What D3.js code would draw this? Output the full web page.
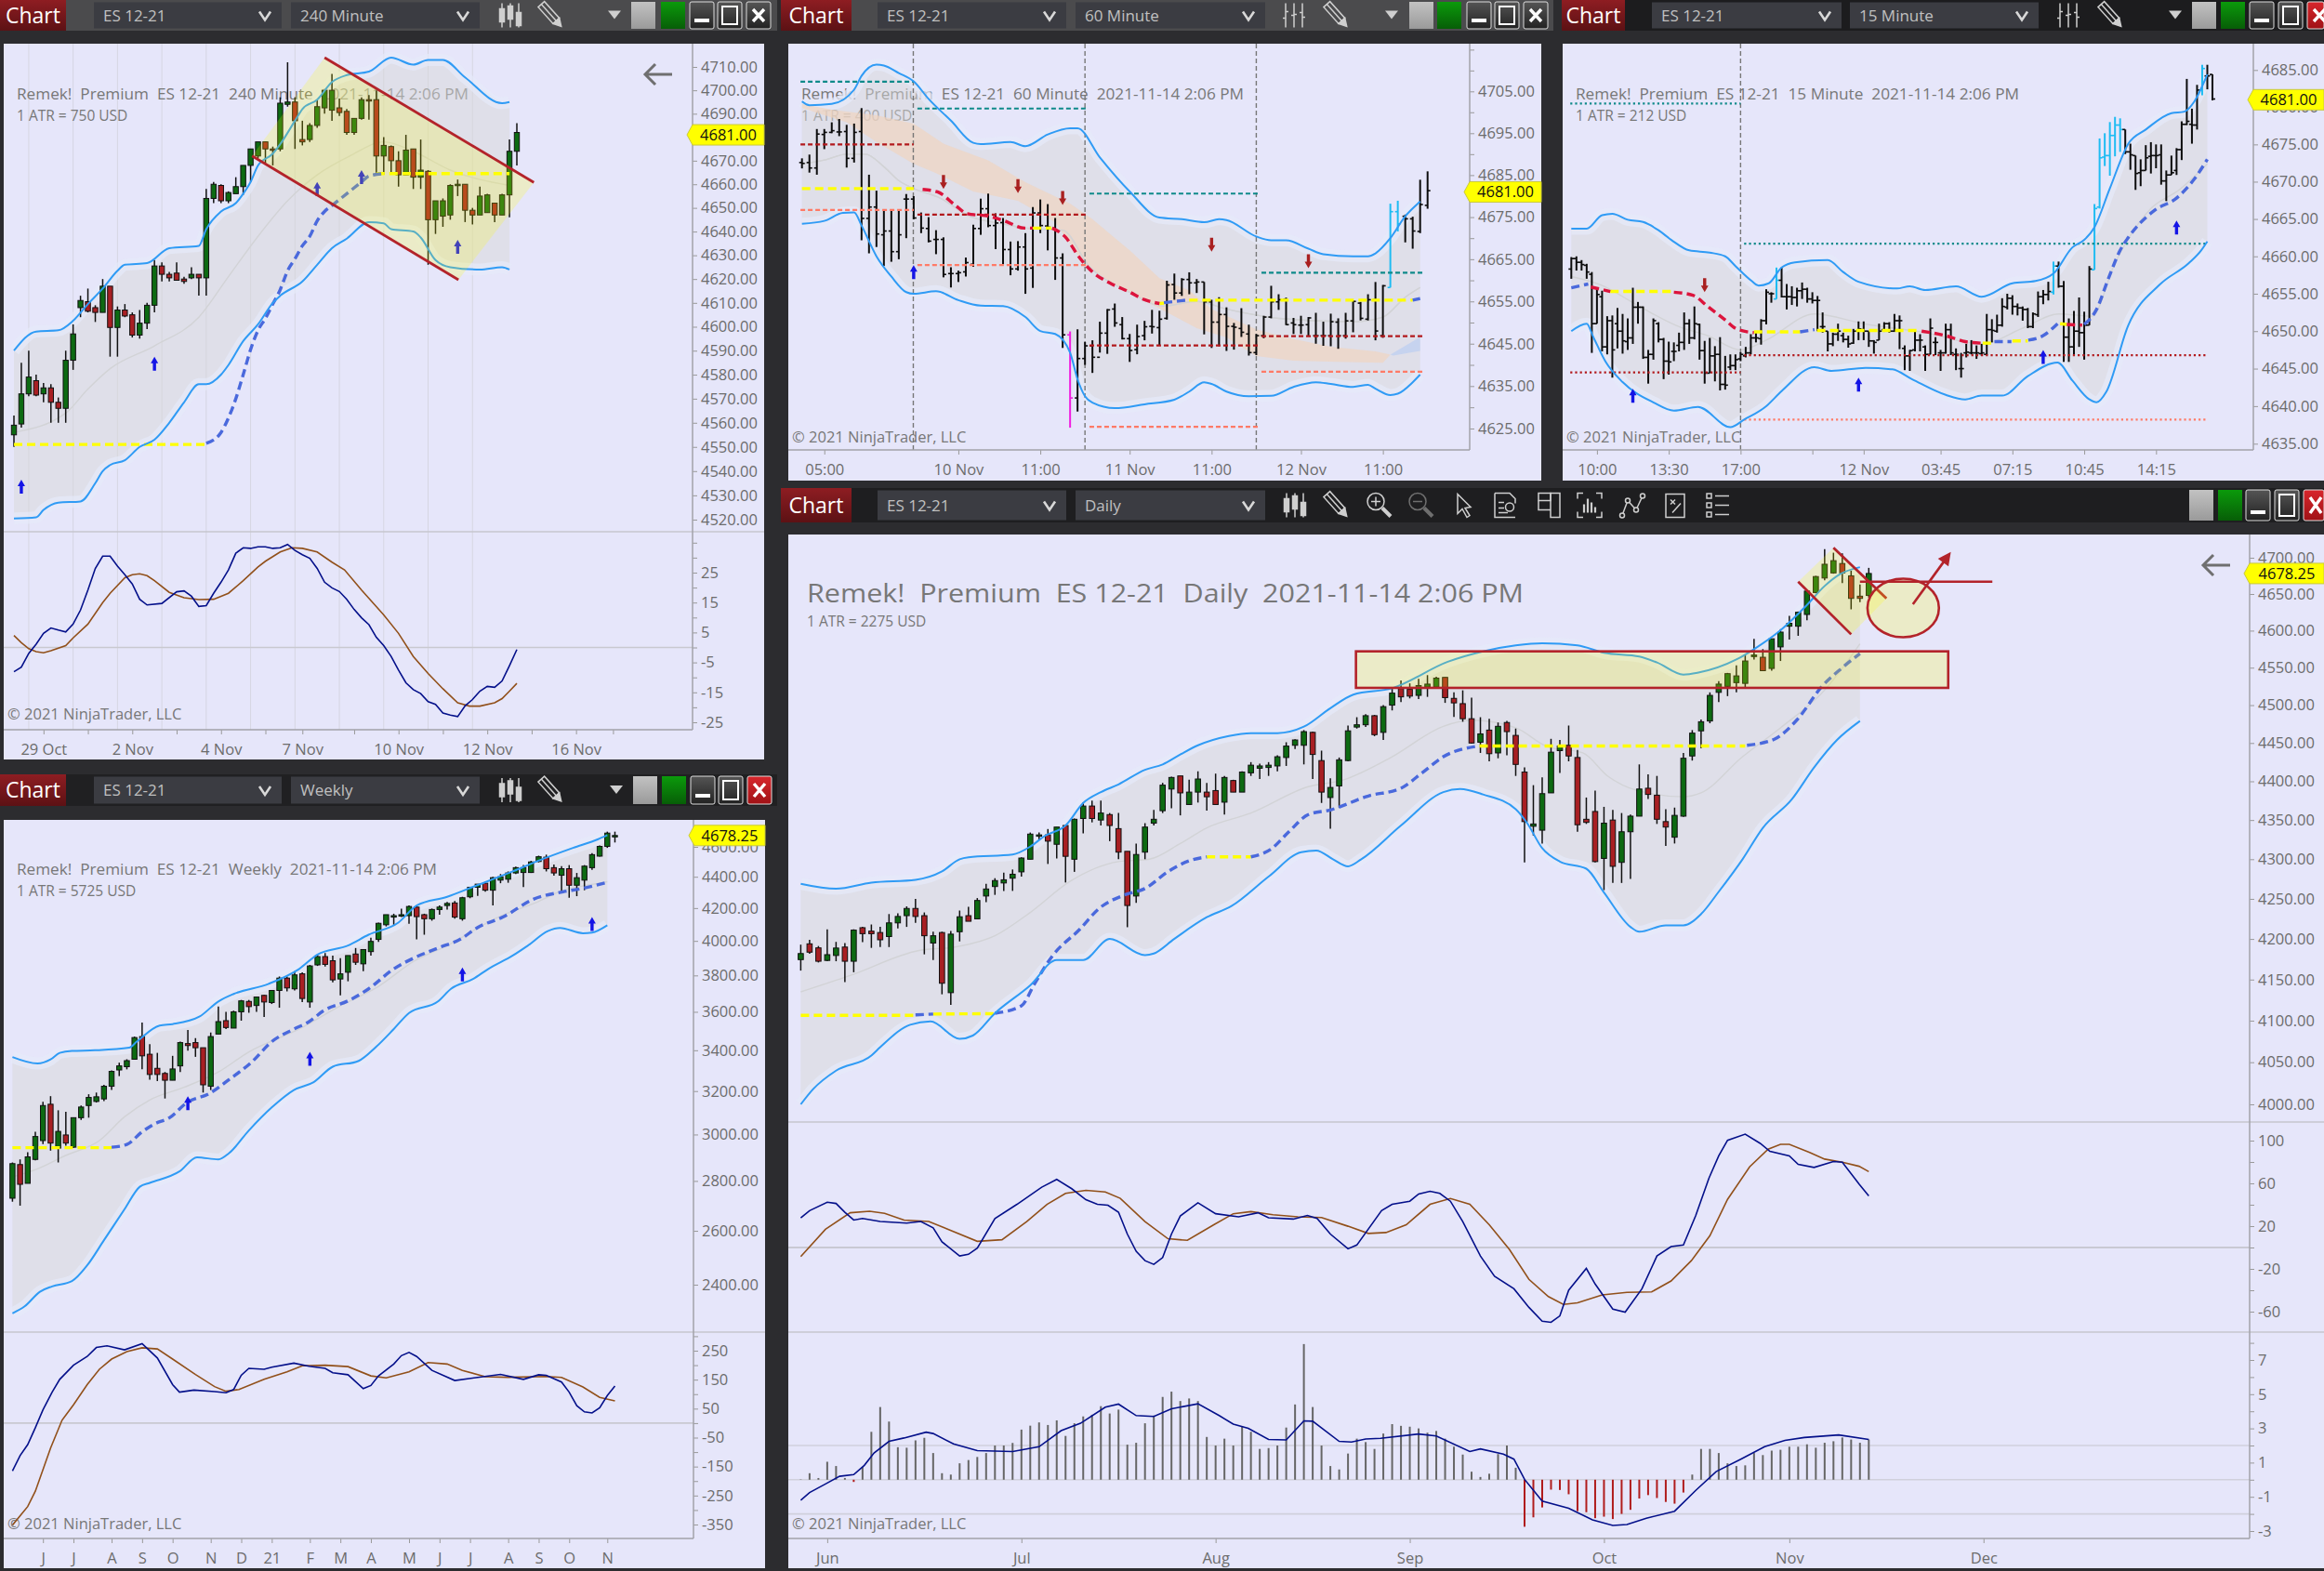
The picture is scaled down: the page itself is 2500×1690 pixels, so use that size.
<!DOCTYPE html>
<html>
<head>
<meta charset="utf-8">
<script src="https://cdn.jsdelivr.net/npm/d3@7"></script>
<style>
html,body{margin:0;padding:0;background:#2c2c2f;}
svg{display:block;}
text{font-family:"Open Sans",sans-serif;white-space:pre;}
</style>
</head>
<body>
<div id="chart"></div>
<script>
// ---- 240 minute : [open, high, low, close]
var ohlc240 = [[4555,4563,4550,4559],[4559.5,4585,4558,4572],[4572,4590,4571,4579],[4577.5,4580,4571,4571.5],[4572,4576.5,4568.5,4574.5],[4574.5,4576,4560,4568.5],[4568.5,4570.5,4560,4566],[4566,4590,4560,4586],[4586,4601,4582,4597],[4608,4613,4604,4611],[4610.5,4616,4606,4606.5],[4608,4609,4602,4606],[4606,4620,4606,4617],[4617,4617,4587.5,4599.7],[4599.7,4608.5,4587.5,4607],[4607,4609.5,4604,4604.5],[4605,4606,4595.5,4596.5],[4596.5,4607,4595,4601.5],[4601.5,4610,4599,4609],[4609,4628,4606,4625.5],[4625.5,4627,4619,4622],[4622,4623,4619,4620.5],[4622.5,4627,4619.5,4619.5],[4620,4621,4618,4619],[4620.5,4625,4620,4622],[4622,4622,4613,4620.5],[4620.5,4658,4613,4654],[4654,4661,4652,4660],[4659.5,4660,4652,4653],[4653,4657,4652,4656.5],[4656,4663,4656,4659],[4659,4668,4655.5,4668],[4668,4675,4661,4675],[4672,4678,4671,4678],[4678,4678,4669,4675],[4675,4676,4668,4674.5],[4675,4697,4674,4694.5],[4694,4712,4693,4695],[4695,4697,4675,4687],[4679,4687,4676.5,4678],[4679,4686,4678,4685],[4685,4696,4684,4693],[4692.5,4700,4690,4700],[4691.5,4707,4687,4700],[4692.5,4696.5,4689,4690.5],[4691,4692,4681,4682],[4682,4688,4681,4688],[4688,4697,4687.5,4696],[4696,4698,4687.5,4695.5],[4696,4700,4664,4672],[4672,4680,4664,4676.5],[4676,4676.5,4664,4670],[4670,4674,4659,4664],[4664,4681,4664,4674.5],[4675,4675,4658,4663],[4663,4679,4658,4666],[4665.5,4666,4626,4645],[4645,4653,4639,4653],[4646.5,4654,4642,4653],[4647,4660,4645,4659.5],[4659.5,4662,4655,4660],[4660,4660,4644,4649],[4649,4650,4643,4647],[4647,4659,4647,4655],[4648,4656,4648,4655.5],[4652,4652,4644,4647],[4647,4656,4647,4655.5],[4655.5,4679,4646,4674],[4674,4686,4668,4682]];
var upper240 = [[0,4590],[3,4598],[6,4598.5],[8,4602.5],[10,4609.5],[12,4616],[14,4623.5],[15,4626],[18,4626.7],[21,4633],[25,4634],[26,4641],[28,4648.5],[30,4652],[31,4656],[32,4661],[33,4668],[35,4673],[36,4677],[38,4687],[39,4692],[41,4696],[43,4703.5],[45,4706.5],[48,4708],[51,4714],[54,4711],[56,4713],[58,4713],[61,4705.5],[66,4694.5],[67,4695]];
var lower240 = [[0,4520.5],[3,4521],[4,4524],[6,4527],[9,4527.5],[11,4535],[12,4540],[13,4542.5],[15,4544.5],[17,4550],[19,4553],[21,4560],[23,4568.5],[25,4576],[26,4576],[28,4580],[29,4584],[31,4594],[33,4601],[35,4610],[36,4613],[39,4619],[41,4626],[43,4633],[45,4637],[48,4644],[50,4643.5],[51,4641],[54,4640],[55,4637.5],[57,4628],[59,4625],[63,4624],[66,4625],[67,4624]];
var center240 = [[0,4556],[7,4564],[10,4574],[13,4582.5],[19,4592],[25,4604],[29,4621],[33,4638],[37,4653],[41,4664],[45.4,4672],[50,4678],[54,4674],[59,4666],[67,4659.5]];
var midYellow240 = [[[0,4551],[26,4551]],[[49,4664.5],[67,4664.5]]];
var midBlue240 = [[[26,4551.5],[28,4556],[29,4562],[30,4570],[31,4580],[32,4590.5],[33,4598.5],[34,4603.5],[35,4609.5],[36,4615.5],[37,4623.5],[38,4628.5],[39,4634],[40,4638],[41,4644.5],[42,4648.5],[43,4651],[44,4653.5],[46,4658.5],[47,4661],[48,4663.5],[50,4664.5]]];
var arrowsUp240 = [[1,4536.5],[19,4587.5],[41,4661],[47,4666],[60,4636.5]];
var channel240 = [[42,4714],[70.3,4660.8],[60.1,4619.7],[32.2,4672]];
var grid240 = [2,8,14,20,26,32,38,44,50,56,62];
var oscFast240 = [[0,-8.1],[1,-6.6],[2,-2],[3,1.1],[4,4.7],[5,6.5],[6,5.8],[7,5.2],[8,7.8],[9,12.5],[10,19.2],[11,26.4],[12,30.5],[13,30.5],[14,27.2],[15,24.3],[16,21.2],[17,16.1],[18,14.2],[20,14.7],[22,18.6],[23,18.9],[24,17.1],[25,13.7],[26,14],[27,18.1],[28,21.8],[29,25.9],[30,31.5],[31,33.3],[32,33.1],[33,33.6],[34,33.6],[35,33.1],[36,33.3],[37,34.4],[38,32.4],[39,31],[40,29.8],[41,26.4],[42,21.8],[43,19.9],[44,18.7],[45,16.1],[46,12.7],[47,9.9],[48,7.6],[49,3.4],[50,0.6],[51,-3],[52,-7.6],[53,-11.8],[54,-14.1],[55,-15.4],[56,-18.1],[57,-19],[58,-21.9],[59,-22.6],[60,-23.1],[61,-19.5],[62,-17.4],[63,-14.6],[64,-13],[65,-13.3],[66,-11.2],[67,-6.1],[68,-0.7]];
var oscSlow240 = [[0,4],[1,1.6],[2,-0.4],[3,-1.4],[4,-1.8],[5,-1.1],[7,0.6],[8,3.2],[10,7.8],[12,15],[13,18.1],[15,23.3],[16,24.3],[17,24.6],[18,24],[19,22.3],[21,18.4],[23,16.6],[25,16],[27,16.1],[29,18.1],[31,22.3],[33,26.9],[34,28.8],[36,31.9],[37.6,33.3],[39,33.1],[41,31.9],[43,28.5],[44.7,25.9],[47,19.2],[50,10.9],[52,4.7],[54,-3],[56,-8.7],[58,-13.8],[60,-18.5],[61.6,-19.6],[63,-19.6],[65,-18.5],[66,-17.1],[67,-14.6],[68,-12]];
var xTicks240 = [4,10,16,22,28,34,39,46,52,58,64,70,76,81];
var xLabels240 = {4:"29 Oct",16:"2 Nov",28:"4 Nov",39:"7 Nov",52:"10 Nov",64:"12 Nov",76:"16 Nov"};
var yTicks240 = [4520,4530,4540,4550,4560,4570,4580,4590,4600,4610,4620,4630,4640,4650,4660,4670,4680,4690,4700,4710];
var oscTicks240 = [35,30,25,20,15,10,5,0,-5,-10,-15,-20,-25];
var oscLabels240 = [25,15,5,-5,-15,-25];

// ---- 60 minute
var ohlc60 = [[4688,4689,4686.6,4687.8],[4688,4689.9,4685.6,4686.7],[4686.7,4696,4685.1,4694.8],[4694.7,4696,4691.2,4695.2],[4695.2,4697.6,4695,4695.6],[4695.3,4698.4,4694.3,4695.3],[4695.4,4697,4686.8,4689],[4689,4697.3,4688,4695.2],[4695.4,4701,4669.5,4674.7],[4674.7,4685.1,4666.4,4677.4],[4677.4,4681.3,4667.9,4671],[4670.8,4676.5,4663.4,4671.7],[4671.7,4676.5,4664.4,4666.8],[4666.8,4676.5,4665,4670.8],[4679.3,4680.5,4670,4679.3],[4679.3,4680,4674.5,4674.8],[4675.6,4676.1,4671.2,4672.4],[4672.3,4675,4669,4669.3],[4669.7,4671.9,4666.2,4669.7],[4669.7,4670.2,4660.7,4661.4],[4661.6,4663.1,4658.3,4661.6],[4661.6,4662.3,4659.6,4661.8],[4662,4665.4,4660.9,4664.2],[4663.8,4673.2,4663.2,4672.3],[4672.3,4679.4,4670.8,4677],[4677,4680.6,4672.6,4673],[4673,4675.9,4667.4,4673.6],[4673.7,4674.8,4663.8,4667.3],[4667.3,4669.2,4661.2,4662.7],[4662.7,4669.3,4662.3,4667.9],[4667.9,4671.2,4656.8,4662.7],[4662.9,4677.4,4658.2,4676],[4676,4679.2,4671.2,4673],[4672.9,4678.1,4667.1,4672.6],[4672.4,4674.8,4660.1,4665.3],[4665.3,4666.4,4644,4647.1],[4647.1,4647.9,4625.2,4632.2],[4632.2,4648.4,4629,4641.5],[4641.5,4645.4,4640,4644.5],[4644.5,4645.8,4638.1,4641.8],[4641.8,4650.2,4642.9,4647.5],[4647.5,4653.2,4642.6,4653],[4653.2,4654.5,4649,4649.9],[4649.5,4651.3,4646,4646.2],[4646.2,4647.3,4640.7,4643.4],[4643.6,4649.5,4642.5,4646.7],[4646.9,4650.4,4645.8,4649],[4649.1,4653,4647.4,4649],[4648.8,4652.8,4644.7,4650.8],[4651,4659.9,4650.7,4658.9],[4659,4661.6,4655.4,4657],[4657,4660.5,4656.3,4660.2],[4660.2,4661.9,4656.7,4659.4],[4659.4,4660.3,4657,4659.6],[4659.6,4659.6,4647.2,4654.9],[4654.9,4655.4,4644,4650.1],[4650.1,4656,4644.4,4651.9],[4651.9,4653.6,4643.3,4649.1],[4649.1,4649.9,4643.6,4648.9],[4648.6,4653.4,4646.6,4647.7],[4647.3,4649.5,4642.2,4642.9],[4642.9,4647.3,4642.3,4646.9],[4646.9,4651.6,4646.3,4651.3],[4651.3,4658.7,4651,4654.9],[4654.9,4656.7,4653,4655.4],[4655.5,4655.9,4649.4,4649.5],[4649.9,4651.1,4647.3,4649.5],[4649.4,4651.6,4647.3,4649.4],[4649.5,4651.3,4646.9,4651.1],[4646.9,4652.3,4645,4646.9],[4646.9,4650.2,4644.5,4646.9],[4646.9,4652.1,4644.4,4650.2],[4650.1,4651,4643.8,4646.9],[4646.9,4652.3,4646.2,4650.4],[4650.4,4655.2,4647.7,4655],[4654.6,4654.9,4650.5,4651],[4650.8,4656.7,4650.5,4655.4],[4655.4,4659.6,4645.8,4648],[4646.9,4658.9,4646.4,4658.7],[4658.3,4678.2,4658.3,4676.3],[4676.3,4678.9,4671.6,4673.4],[4675.2,4675.6,4669,4674.6],[4674.6,4675.1,4667.5,4671.7],[4671.6,4683.9,4671.2,4678],[4677.8,4685.9,4677,4681.3]];
var cyan60 = [79,80];
var magenta60 = [36];
var upper60 = [[0,4702.6],[1,4701.7],[4,4702],[7,4705.4],[8,4708.7],[10,4711.4],[11,4711.2],[13,4709.4],[15,4707.4],[17,4703.2],[20,4698],[23,4692.7],[24,4692.4],[28,4692.9],[30,4691.9],[33,4694.7],[36,4696.2],[37,4696.2],[40,4689.2],[44,4681.1],[48,4674.9],[51,4674.5],[54,4673.8],[56,4674.5],[57,4674.3],[61,4670.4],[63,4669.5],[65,4669.5],[68,4667.5],[70,4666.2],[74,4665.7],[76,4665.7],[77,4666.4],[79,4670],[81,4675.2],[83,4678.7]];
var lower60 = [[0,4673.4],[3,4674.1],[5.5,4676],[7,4676.1],[8,4673],[10,4665.7],[12,4660.9],[14,4657.2],[15,4656.8],[18,4657.4],[21,4655.3],[24,4654],[27,4653.9],[30,4651.3],[32,4648],[34,4647.3],[36,4642.9],[37,4636.6],[38,4632.6],[39,4631.1],[42,4629.8],[46,4630.7],[50,4631.8],[52,4633.7],[54,4635.9],[55,4635.5],[57,4633.7],[60,4632.6],[63,4632.7],[66,4634.8],[69,4635.9],[71,4635.5],[74,4634.8],[76,4635.3],[77,4634.4],[79,4632.9],[80,4633.2],[82,4635.9],[83,4637.7]];
var center60 = [[0,4687.7],[3,4688.6],[6,4690],[8.5,4690],[11,4687],[13,4683.7],[15,4681.8],[18.5,4679.6],[22.5,4675.2],[27,4673.4],[30.5,4672.3],[35,4671.9],[38.5,4663.5],[44,4657.2],[48.5,4653.9],[53,4655],[57,4653.2],[64,4651],[74,4650.2],[78,4651.3],[81,4656],[83,4658.3]];
var shadeTop60 = [[0,4702],[4,4700.6],[10,4699.3],[15,4697.3],[19,4692.5],[25,4688.5],[30,4683.3],[36,4678.2],[39,4674.5],[44,4667.1],[48,4660.5],[52,4657.6],[55,4653.2],[61,4648.4],[65,4646.5],[71,4644.3],[77,4643.2],[79,4642.4]];
var shadeBottom60 = [[0,4701],[6,4697.6],[10,4692.9],[15,4687.7],[18,4685.5],[23,4681.1],[29,4678.9],[34,4673.8],[38,4663.5],[42,4659],[45,4656],[49,4652.4],[53,4648.7],[57,4646.5],[61,4642.1],[66,4641],[72,4640.7],[78,4640.5],[79,4642.4]];
var shadeBlue60 = [[79,4642.4],[83,4646.6],[83,4643.3],[79.4,4642.2]];
var midYellow60 = [[[0,4681.8],[15,4681.8]],[[31,4672.4],[33.5,4672.4]],[[48,4654.5],[48.6,4654.6]],[[52,4655.3],[82,4655.3]]];
var midRed60 = [[[16.2,4681.6],[18.2,4681],[20.6,4677.8],[22.2,4675.8],[25.2,4675.2],[27.2,4674.1],[29.9,4672.4],[31,4672.4]],[[33.6,4672.4],[35.3,4670.4],[37.3,4665.3],[39,4662],[41.3,4659.4],[44,4657.2],[46,4655.4],[48,4654.5]]];
var midBlue60 = [[[48.6,4654.7],[51.6,4655.3]],[[82,4655.3],[83,4655.7]]];
var teal60 = [[-0.2,15,4707.3],[15.5,38.3,4700.9],[38.6,61.3,4680.6],[61.7,83.3,4661.8]];
var darkRed60 = [[-0.2,15,4692.3],[15.5,38.3,4675.6],[38.6,61.3,4644.6],[61.7,83.3,4646.8]];
var salmon60 = [[-0.2,15,4676.7],[15.5,38.3,4663.6],[38.6,61.3,4625.4],[61.7,83.3,4638.4]];
var sessions60 = [14.95,38,61];
var arrowsUp60 = [[15,4663.6]];
var arrowsDown60 = [[19,4681.7],[29,4680.7],[35,4677.9],[55,4666.8],[68,4662.9]];
var xTicks60 = [3,21,32,44,55,67,78];
var xLabels60 = {3:"05:00",21:"10 Nov",32:"11:00",44:"11 Nov",55:"11:00",67:"12 Nov",78:"11:00"};
var yTicks60 = [4625,4630,4635,4640,4645,4650,4655,4660,4665,4670,4675,4680,4685,4690,4695,4700,4705,4710,4715];
var yLabels60 = [4625,4635,4645,4655,4665,4675,4685,4695,4705];

// ---- 15 minute
var ohlc15 = [[4658.3,4659.9,4657,4659.7],[4659.7,4660,4658.1,4659.2],[4659.2,4659.5,4658.1,4658.9],[4658.8,4659,4657,4657.9],[4657.6,4657.9,4647.1,4651],[4651,4655.8,4651,4654.9],[4654.6,4655.4,4647.3,4647.9],[4647.9,4652,4646.9,4651.4],[4651.4,4652.1,4643.8,4647.5],[4651,4653.1,4647.7,4650],[4650,4652.3,4647,4648.7],[4648.6,4651.7,4647.5,4649.1],[4649.1,4655.8,4648.3,4653.2],[4653.2,4653.9,4651,4653.2],[4653.2,4653.3,4646.3,4646.5],[4646.5,4647.5,4643,4646.9],[4646.9,4651.7,4646.2,4651.4],[4651,4651.2,4648.5,4648.9],[4648.9,4649.1,4643.6,4646],[4646,4648.6,4644.2,4645.9],[4647.3,4648.5,4646,4647.3],[4648.1,4649.8,4647.3,4648.5],[4648.5,4652.5,4647.5,4651],[4651,4651.6,4648.3,4649.1],[4649.1,4653.3,4648.9,4651],[4650.9,4651,4646.2,4647.4],[4647.4,4648.7,4643,4644.4],[4644.4,4649.1,4644.4,4646.7],[4646.7,4648,4643.3,4646.9],[4646.9,4649.2,4642.1,4642.9],[4642.9,4646.7,4642.2,4642.8],[4645.2,4646.9,4644.8,4645.4],[4645.4,4646.9,4644.8,4646.2],[4646.3,4647.2,4646,4646.9],[4646.7,4647.9,4646.5,4647.1],[4647.1,4649.6,4646.9,4649.1],[4649.1,4650,4648.5,4649.1],[4649,4651.6,4648.2,4651.4],[4651.4,4655.6,4650.9,4655.2],[4655,4655.2,4653.8,4655],[4654.3,4658.5,4654.3,4656.8],[4656.8,4658.5,4654.5,4654.6],[4654.6,4656.3,4652.9,4654.6],[4654.6,4656,4653.5,4654.5],[4654.5,4655.8,4653.3,4655.4],[4655.4,4656.5,4654.3,4655.6],[4655.6,4655.8,4653.8,4654.3],[4654.3,4655.2,4653.7,4654.1],[4654.1,4654.7,4650,4654.1],[4650.6,4652.5,4649.8,4650.6],[4650,4650,4647.3,4648.3],[4648.3,4649.8,4648,4649.6],[4649.6,4651,4648.7,4650],[4649.4,4649.8,4648.5,4648.9],[4648.9,4649.4,4647.8,4648.3],[4648.4,4650.3,4648.3,4650],[4650,4651.3,4648.8,4650.3],[4650.2,4651.3,4648.8,4650],[4650,4650,4647.9,4648.7],[4648.7,4648.8,4647,4648.5],[4648.8,4651,4648.8,4650],[4650.2,4651.2,4649.9,4651],[4651,4651.2,4649.8,4650],[4650,4652.3,4649.9,4651.4],[4651.4,4652.1,4647.6,4651.4],[4647.7,4648.1,4644.8,4646.7],[4646.7,4647.5,4644.7,4647.4],[4647.5,4650.2,4647.3,4648.8],[4648.8,4649.6,4647.3,4648.8],[4647.9,4648.1,4644.7,4646.9],[4646.9,4651.7,4646.9,4650.4],[4648.5,4649.2,4646.8,4648.5],[4647.1,4647.5,4644.7,4647.1],[4647.1,4651,4647,4650.2],[4650.2,4651,4646.8,4647.1],[4646.9,4647.7,4644.8,4646.9],[4645,4647.1,4643.8,4645],[4647.1,4648.3,4646.5,4647.2],[4647.1,4648.8,4646.9,4647.1],[4647.1,4648.1,4646.3,4647.1],[4647,4648.3,4646.7,4647.1],[4646.9,4652.3,4646.8,4650.2],[4650.2,4651.6,4648.5,4650.1],[4650,4652.2,4649.8,4650.8],[4650.8,4654.4,4650.6,4653.3],[4653.2,4655,4652.9,4654.4],[4654.4,4654.8,4652.2,4653.3],[4653.3,4653.7,4652.1,4653.1],[4653.1,4653.3,4651.4,4652.9],[4652.9,4653.1,4650.4,4650.6],[4650.6,4652.5,4650.4,4652.3],[4652.2,4655.3,4651.9,4654.6],[4654.6,4655.5,4653.6,4654.9],[4654.9,4656.6,4654.1,4655.3],[4655.2,4659.3,4654.9,4658.7],[4658.7,4659.3,4655.8,4656],[4656,4656.7,4645.9,4649.2],[4649.2,4651.7,4645.9,4647.9],[4647.9,4652.7,4646.7,4650],[4650,4654.5,4647.9,4649.8],[4649.8,4652.6,4646.2,4650.8],[4650.8,4658.7,4650.8,4658.3],[4658.2,4667,4658.2,4666.4],[4666.6,4675.8,4666.4,4673.2],[4673.3,4676.5,4672.1,4673.5],[4673.5,4678,4670.8,4676.2],[4676.2,4678.7,4673.4,4677.6],[4677.6,4678.5,4674,4677],[4677,4677,4673.7,4674],[4674,4675.1,4671.6,4673.6],[4673.5,4673.5,4668.9,4671.1],[4671.2,4673,4669.4,4671.5],[4671.5,4674.9,4671.5,4673.2],[4673.4,4675.3,4671.1,4673.5],[4673.5,4675,4671.8,4673.5],[4673.6,4675,4669.6,4670.1],[4670.1,4671.5,4667.4,4670.9],[4670.9,4673.5,4670.9,4671.2],[4671.5,4674.5,4670.9,4674.3],[4674.3,4678.1,4672.9,4677.7],[4677.7,4683.8,4677.6,4678.1],[4677.7,4679.8,4675.1,4677.6],[4677.6,4683,4677,4682.3],[4682.3,4685.7,4681.6,4685.2],[4684.2,4685.7,4682.4,4684.2],[4684.4,4684.4,4680.9,4681.1]];
var cyan15 = [40,94,102,103,104,105,106,107,123];
var upper15 = [[0,4663.7],[3,4663.7],[6,4665.5],[8,4665.7],[11,4664.9],[14,4664.6],[17,4663.5],[19.5,4662.2],[23,4660.8],[27,4660.5],[30,4660],[32,4658.7],[35,4656.8],[36.5,4656.1],[38.5,4656.4],[41,4658.5],[43.6,4659.2],[50,4659.5],[53,4657.9],[56,4656.6],[63.5,4655.7],[66,4656],[69,4655.5],[75,4656],[80,4654.6],[86,4656.4],[90.5,4656.7],[94,4657.7],[97.7,4661.2],[100,4662.2],[102,4663.9],[105,4669.1],[108.6,4675.1],[112,4677],[117,4679.2],[119.5,4679.4],[121.4,4680.7],[124,4684.4]];
var lower15 = [[0,4650],[3,4651],[4.3,4649.2],[6.7,4645.9],[10,4643.2],[16,4640.5],[20,4639.4],[24.7,4639.9],[31,4637.2],[33.7,4638.2],[38,4640],[41,4642],[47.4,4645.2],[50.7,4644.7],[57.4,4645.1],[62.6,4644.9],[66.4,4643.6],[73,4641.5],[76.8,4640.9],[80,4641.4],[84,4641.4],[89,4644],[94.8,4645.8],[97.7,4643.4],[101,4640.9],[102.4,4640.5],[104.3,4641.9],[108.6,4650.8],[114.7,4656.2],[120.4,4659.1],[122.8,4660.8],[124,4662]];
var center15 = [[0,4657.3],[5.7,4656.2],[13.3,4653.3],[21,4650.6],[26.6,4649.4],[33,4647.5],[38,4648.8],[47.4,4652.3],[57,4651],[69,4649.8],[80,4648.3],[88,4650.4],[95,4652.3],[101.5,4652],[106,4659.1],[113,4666.4],[118.5,4668.9],[124,4672.4]];
var midYellow15 = [[[7.6,4655.3],[19.5,4655.3]],[[35.6,4649.9],[44.6,4649.9]],[[47.9,4650.1],[68,4650.1]],[[80.2,4648.4],[82.5,4648.4]],[[86,4648.7],[89,4648.7]],[[95.3,4651],[96.6,4650.9]]];
var midRed15 = [[[3.8,4655.9],[7.6,4655.3]],[[20,4655.2],[23.7,4654.8],[26.6,4653.3],[30,4651.5],[32.2,4650.3],[35.6,4649.8]],[[68.3,4650],[73,4649.4],[76.8,4648.6],[80,4648.4]],[[96.6,4650.9],[99.6,4650.8]]];
var midBlue15 = [[[0,4655.8],[3.3,4656.3]],[[44.6,4649.9],[47.4,4650.2]],[[82.5,4648.6],[85.8,4648.6]],[[89.1,4648.8],[92,4649.4],[94.8,4651]],[[100,4650.9],[102.4,4652.9],[104.7,4657],[107,4660.8],[109,4662.9],[113.8,4666.2],[118,4667.8],[121.4,4670.3],[124,4673]]];
var teal15 = [[-0.2,33,4680.5],[33.7,124,4661.7]];
var darkRed15 = [[-0.2,33,4644.5],[33.7,124,4646.8]];
var salmon15 = [[33.7,124,4638.2]];
var sessions15 = [33];
var arrowsUp15 = [[12,4642.3],[56,4643.8],[92,4647.5],[118,4664.8]];
var arrowsDown15 = [[26,4655.2]];
var xTicks15 = [5,19,33,47,57,72,86,100,114];
var xLabels15 = {5:"10:00",19:"13:30",33:"17:00",57:"12 Nov",72:"03:45",86:"07:15",100:"10:45",114:"14:15"};
var yTicks15 = [4635,4640,4645,4650,4655,4660,4665,4670,4675,4680,4685];

// ---- Daily
var ohlcDaily = [[4174.5,4193,4161,4182],[4194,4199,4181.7,4183.7],[4189,4191.3,4171,4172.5],[4173.5,4212,4172.5,4180.6],[4179.6,4196.4,4172.5,4188.8],[4190,4195,4147,4172.5],[4172.5,4212,4159,4211],[4214,4215,4196,4206.6],[4209.7,4218,4189,4206.6],[4208,4215,4190,4199],[4203,4231,4190,4220],[4220,4232,4213,4228],[4229,4240.6,4215,4238],[4238,4250,4220,4228],[4229,4233,4181,4204],[4195,4209,4174,4204],[4208,4209,4132,4145.5],[4134,4210,4119,4206],[4209,4235.4,4197,4227.6],[4229,4240,4222,4222],[4225,4251,4225,4248],[4253.6,4269,4246,4262.4],[4265.5,4276,4255,4273],[4270,4283,4260,4274],[4276,4287,4260,4281],[4284,4302.5,4278,4301.5],[4300,4334,4300,4332],[4330,4334,4325,4331],[4331,4338.5,4294,4323],[4319,4341,4301,4341],[4343,4343,4270.6,4303.7],[4300,4352,4284,4351],[4352,4373,4333,4368],[4368,4375,4347,4352],[4350,4375,4343,4359],[4357,4359,4323,4343],[4339,4359,4300,4309],[4310,4310,4214.6,4241.7],[4253.6,4320,4245,4306],[4309,4346,4300,4341],[4346,4363,4343,4351],[4362,4398,4359,4395],[4390,4406,4365,4405],[4407,4407,4356,4385],[4370,4402,4370,4386],[4386,4413,4372.5,4403],[4386,4398,4362,4380],[4388,4410,4370,4370],[4373,4407,4357,4405],[4401,4402,4386,4386],[4386,4413,4386,4412],[4411,4425,4407,4421],[4417,4423,4403,4420],[4418,4425,4407,4421],[4420,4434,4413,4432],[4431,4451,4420,4446],[4447,4455,4442,4454],[4447,4467,4422,4465],[4464,4465,4403,4435],[4427,4440,4372,4386],[4379,4404,4339,4392],[4394,4431,4366,4428],[4427,4473,4426,4466],[4471,4484,4469,4474],[4474,4488,4471,4486],[4486,4487,4459,4461],[4464,4500,4454,4498],[4500,4522,4493,4516],[4522,4533,4504,4511],[4521,4529,4509,4512],[4513,4535,4508,4526],[4524,4540,4511,4528],[4524,4538,4524,4536],[4537,4537,4503,4510],[4509,4517,4484.5,4503],[4502,4519.7,4478,4482],[4482,4510,4449,4450],[4451,4484,4437,4462],[4467,4482,4426,4436],[4437,4477,4430,4472],[4477,4479,4434,4465],[4460,4469,4407,4422],[4412,4418,4296,4348],[4342,4395,4330,4345],[4337,4405,4320,4384],[4385,4455.5,4385,4438],[4440,4454,4411,4446],[4447,4473,4426,4433],[4431,4441,4335,4344],[4351,4379,4345,4347],[4361,4388,4296,4297],[4301,4367,4261,4346],[4350,4363,4270,4291],[4296,4359,4270,4335],[4335,4357,4275,4355],[4355,4422,4355,4390],[4391,4409,4377,4383],[4382,4407,4345,4351],[4348,4364,4317,4341],[4328,4366,4320,4356],[4355,4437,4354,4430],[4433,4467,4427,4463],[4466,4481,4443,4478],[4479,4517,4476,4513],[4517,4532,4504,4528],[4525,4543,4512,4542],[4530,4553,4517,4539],[4529,4567,4524,4559],[4565,4589,4561,4567],[4564,4575,4546,4546],[4549,4589,4546,4589],[4578,4602,4559,4598],[4606,4620,4588,4610],[4606,4626,4593,4625],[4622,4655,4614,4654],[4652,4675,4651,4674],[4672,4712,4669,4691],[4679,4707,4678,4696],[4692,4706,4665,4679],[4675,4682,4629,4644],[4647,4663,4639,4644],[4648,4686,4645,4678.25]];
var upperDaily = [[0,4269],[4,4262.7],[8,4270.5],[13,4274],[16,4284.6],[18,4300],[19,4302.5],[24,4306],[26,4316],[27.6,4329.4],[30,4343],[32,4372],[34,4386],[36,4396],[39,4415],[41,4422],[43,4435],[45,4447],[48.5,4459.3],[51,4463],[54,4463],[57,4471.5],[60,4496],[62.6,4514],[67,4522.5],[73.3,4558],[77.3,4572],[81,4580],[84,4583],[88,4580],[91,4570],[95,4565],[97,4557],[100,4540.7],[101.7,4543.4],[106,4561],[108,4575],[111,4600.5],[114,4635],[116,4661],[117.7,4677],[120,4687]];
var lowerDaily = [[0,4000],[1.4,4018],[4,4040],[8,4058],[9,4068],[12.4,4095],[14.7,4099],[18,4078],[19.5,4082],[22,4109],[26,4143],[29,4174],[32,4174],[35,4200],[39,4180],[40,4182],[42.3,4200],[46,4227],[48.8,4241],[53,4278],[56.7,4309],[58.4,4311],[60.3,4300],[62,4291],[63.5,4300],[68,4343],[72.8,4386],[74.7,4390],[77.3,4383],[81,4364],[82.3,4346],[84,4314],[86,4297],[89,4288],[91,4258],[94,4215],[95,4209],[98,4217],[100,4217],[102,4231],[104,4259],[106.7,4300],[109,4340],[112.3,4377],[114.8,4418],[117.4,4454],[120,4479]];
var centerDaily = [[0,4135],[5.6,4155],[13.5,4186],[17.5,4190],[22,4204],[26,4233],[30.5,4272],[36,4297],[39.5,4300],[43,4320],[46,4340],[51,4359],[57.5,4393],[61.5,4402],[67,4432],[72.8,4472],[76,4480],[81,4470],[84.6,4445],[88.6,4437],[91.4,4407],[94.8,4388],[100,4380],[102,4385],[106.7,4432],[111,4470],[116,4520],[120,4582]];
var midYellowDaily = [[[0,4106.5],[13,4106.5]],[[15,4108],[22,4108.5]],[[46,4303],[51,4303]],[[76.9,4446],[107,4446]]];
var midBlueDaily = [[[13,4107],[15,4108]],[[22,4109],[25,4118],[26.5,4145],[28.5,4179],[31.6,4212],[33.8,4238],[36.7,4255],[39,4263],[41.7,4285],[44,4298],[46,4303]],[[51,4303],[53.3,4313],[55.3,4335],[57.5,4357],[60,4363],[64.3,4381],[68,4391],[70.5,4412],[72.8,4432],[76.7,4446]],[[107.2,4447],[110.3,4455],[112.9,4481],[115.7,4525],[118,4550],[120,4569]]];
var zoneDaily = [62.9,130,4572,4523];
var channelDaily = [[117,4714],[123,4644],[119,4595],[113,4667]];
var targetDaily = [124.9,4.05,4671,4591];
var targetLineDaily = [120,135,4667];
var targetArrowDaily = [[126,4636],[130.3,4708]];
var oscFastDaily = [[0,27.8],[1,34.5],[3,42.4],[4,41.2],[5,33],[6,25.7],[7,27.2],[9,24.3],[12,22.8],[13.6,24.3],[15,18.4],[16,5.3],[18,-7.9],[19,-6.4],[20,-0.6],[22,27.2],[24.5,40.4],[27.3,56.4],[29,63.7],[30.7,55],[32.3,44.7],[33.6,40.4],[34.8,39.5],[36,33],[37,12.6],[38,-3.5],[39,-12.3],[40,-15.8],[41,-9.4],[42,12.6],[43,29.5],[45,41.8],[47,31.6],[49.6,28.7],[51.8,32.5],[53,27.8],[55.8,26.6],[57.4,30],[58.5,27.2],[60,12.6],[62,-1.2],[63,2.3],[65.8,34.5],[67,40.4],[69,43.3],[70,50],[71.3,52.6],[72.4,50.6],[73.6,43.3],[75,24.3],[77,-7.9],[78.6,-26.9],[80.8,-38.6],[82.5,-56],[84,-69],[85,-70],[86,-64],[87,-40],[89,-19.6],[90,-34.2],[92,-57.6],[93.4,-60.5],[95.3,-38.6],[97,-7.9],[98.6,0.9],[100,2.3],[101.4,30],[102.9,65],[104,85.7],[105,100.3],[107,106],[108.7,97.4],[109.8,90],[112,85.7],[113,77.8],[114.8,74.9],[117,80.4],[118,79.8],[119.9,59.4],[121,48.2]];
var oscSlowDaily = [[0,-8.5],[2.8,17],[5.6,32.5],[7.8,33.9],[9.5,32],[11.7,25.7],[14.5,24.3],[16.7,17],[20,5.8],[22.8,7.3],[25.6,24.3],[27.9,40.4],[30,50.6],[32.3,53.5],[34.5,52],[36.2,46],[39,24.3],[41.6,8.2],[43.8,6.7],[46.8,21.3],[49,31.6],[51,33.6],[53.5,30.7],[56.3,28.7],[59,28],[62,19.9],[64.3,13.2],[66.3,14],[68.6,21.3],[71.3,40.4],[73.6,45.9],[75.8,40.4],[78,21.3],[80.3,-2],[82.5,-29.8],[84.7,-45.9],[86.4,-53.2],[88,-51.8],[90.8,-44.4],[93.6,-42],[96.4,-41.5],[98.6,-31.3],[100.9,-12.3],[103,11],[105,45],[107.5,75.4],[109.6,92],[111,96.5],[112,96.5],[114.3,89],[116,82.7],[118,79.8],[119.9,76],[121,71]];
var histDaily = [0.02,0.38,0.1,1.05,0.8,0.1,-0.13,0.75,2.8,4.25,3.4,1.9,1.87,2.3,2.45,1.56,0.38,0.3,0.96,1.15,1.33,1.56,2,2,2.15,2.93,3.16,3.35,3.2,3.47,2.56,3.3,3.7,3.8,4.3,3.87,4.1,2.05,2.16,3.3,3.75,4.84,5.15,4.6,4.75,4.6,2.5,2,2.4,2,3.1,2.8,1.8,1.85,2,3.05,4.4,7.93,4.25,2,0.8,0.6,1.53,2.4,2.2,1.8,2.7,3.25,3.15,3.1,3,2.75,2.85,2.4,1.93,1.47,0.47,0.16,0.35,1.5,2,0.7,-2.75,-2.2,-1.62,-0.58,-0.6,-0.85,-1.84,-1.9,-2.25,-2.16,-2.3,-2,-1.76,-1.1,-0.9,-1.07,-1.3,-1.4,-0.75,0.3,1.8,1.8,1.56,0.96,0.8,0.84,1.56,1.44,1.7,1.75,1.93,1.93,2.07,1.87,2.16,2.25,2.47,2.35,2.16,2.35];
var histLineDaily = [[0,-1.2],[1,-0.75],[2.8,-0.25],[4.4,0.2],[6,0.3],[7.2,0.84],[8.3,1.56],[10,2.24],[11.7,2.44],[14.2,2.78],[15,2.7],[17.3,2.1],[20,1.7],[24,1.65],[27,1.93],[29.5,2.87],[31.7,3.3],[34.5,4.24],[36,4.42],[38,3.75],[40,3.7],[42,4.15],[45,4.44],[47.4,3.75],[49,3.25],[50.7,3],[53,2.35],[55,2.33],[57,3.44],[58,3.42],[61,2.24],[62.4,2.2],[64,2.38],[65.7,2.42],[70,2.67],[72,2.56],[75.8,1.65],[77,1.8],[79.6,1.5],[80.8,1.2],[82,0.02],[84,-1.25],[87,-1.67],[89.7,-2.35],[92,-2.67],[93.6,-2.62],[95.8,-2.25],[99,-1.84],[101.4,-0.62],[103.7,0.47],[106.5,1.2],[109.2,1.93],[111.5,2.3],[113.7,2.47],[117.6,2.62],[121,2.35]];
var xTicksDaily = [3,25,47,69,91,112,134];
var xLabelsDaily = {3:"Jun",25:"Jul",47:"Aug",69:"Sep",91:"Oct",112:"Nov",134:"Dec"};
var yTicksDaily = [4000,4050,4100,4150,4200,4250,4300,4350,4400,4450,4500,4550,4600,4650,4700];
var oscTicksDaily = [100,80,60,40,20,0,-20,-40,-60];
var oscLabelsDaily = [100,60,20,-20,-60];
var histTicksDaily = [8,7,6,5,4,3,2,1,0,-1,-2,-3];
var histLabelsDaily = [7,5,3,1,-1,-3];

// ---- Weekly
var ohlcWeekly = [[2729,2878,2715,2873],[2869,2891,2699,2786],[2790,2922,2790,2902],[2891,3012,2887,2991],[2973,3150,2958,3132],[3138,3176,2929,2962],[2940,3110,2878,3014],[2998,3103,2951,2962],[2944,3076,2940,3076],[3076,3132,3066,3125],[3132,3185,3076,3170],[3151,3193,3146,3173],[3163,3230,3153,3223],[3223,3300,3205,3295],[3302,3338,3272,3322],[3318,3355,3305,3348],[3355,3470,3355,3465],[3470,3543,3305,3372],[3380,3431,3255,3280],[3310,3387,3248,3280],[3285,3292,3165,3252],[3252,3372,3252,3307],[3322,3444,3292,3439],[3434,3504,3398,3424],[3439,3462,3367,3413],[3413,3413,3193,3230],[3223,3491,3205,3470],[3483,3628,3483,3548],[3553,3600,3509,3517],[3514,3606,3514,3600],[3600,3664,3553,3659],[3656,3664,3595,3628],[3634,3683,3600,3680],[3689,3692,3572,3653],[3650,3718,3642,3716],[3716,3794,3622,3785],[3785,3794,3711,3730],[3725,3824,3716,3803],[3809,3818,3653,3672],[3653,3860,3622,3854],[3860,3920,3854,3908],[3908,3929,3851,3863],[3884,3914,3761,3775],[3780,3899,3689,3809],[3818,3914,3767,3914],[3923,3958,3860,3875],[3866,3949,3824,3949],[3937,4019,3914,3997],[4009,4110,3994,4106],[4097,4159,4087,4159],[4144,4165,4097,4153],[4150,4197,4144,4159],[4153,4216,4103,4210],[4206,4216,4009,4147],[4159,4165,4037,4134],[4134,4197,4122,4191],[4191,4216,4159,4206],[4216,4239,4191,4229],[4232,4245,4134,4144],[4134,4271,4122,4265],[4271,4335,4262,4332],[4332,4352,4277,4352],[4358,4368,4303,4313],[4313,4400,4216,4394],[4378,4418,4358,4400],[4384,4435,4361,4425],[4425,4467,4418,4460],[4428,4477,4333,4460],[4428,4505,4425,4498],[4501,4540,4495,4533],[4530,4547,4435,4453],[4460,4481,4407,4425],[4410,4470,4297,4453],[4453,4477,4265,4345],[4345,4425,4275,4394],[4378,4477,4313,4470],[4460,4558,4446,4547],[4537,4610,4533,4603],[4603,4705,4593,4695],[4678,4705,4630,4678.25]];
var upperWeekly = [[0,3366],[3.3,3334],[5,3354],[6.2,3387],[7.8,3397],[10.8,3400],[15.3,3413],[16.3,3444],[19.3,3527],[21,3535],[24.5,3574],[27,3656],[29,3697],[33.6,3753],[37.6,3837],[40,3920],[44,3973],[46.7,4037],[50.6,4110],[53,4216],[57,4271],[60.4,4335],[65.6,4435],[68.9,4505],[73.5,4593],[76.8,4653],[78,4681]];
var lowerWeekly = [[0,2300],[1.6,2324],[3.6,2375],[5.2,2394],[7.8,2413],[9.8,2470],[12,2564],[14.7,2685],[16.7,2776],[18,2792],[21.9,2840],[24.2,2900],[27,2891],[28.4,2918],[31,3018],[34,3123],[36.9,3205],[39.5,3243],[42,3318],[45.4,3347],[47.7,3418],[50,3509],[52,3594],[55.8,3656],[57.5,3725],[60.4,3780],[62.4,3837],[65.6,3914],[67.6,3973],[70.2,4059],[71.8,4078],[74.8,4046],[76,4050],[78,4094]];
var centerWeekly = [[0,2817],[3.3,2851],[6.9,2907],[11.4,2973],[14.7,3080],[18,3158],[22.5,3218],[27,3292],[31,3392],[37.6,3509],[42.8,3628],[48,3739],[52.6,3880],[57,3973],[63.7,4144],[68.9,4239],[72.2,4313],[75.4,4345],[78,4368]];
var midYellowWeekly = [[[0,2942],[13,2942]]];
var midBlueWeekly = [[[13,2944],[15,2956],[17,3012],[18.6,3047],[20.6,3076],[22.9,3146],[25.8,3188],[28.4,3255],[31.4,3342],[34,3444],[36.9,3509],[38.9,3548],[40.8,3606],[44,3659],[46.7,3725],[50,3837],[52.6,3899],[55.8,3958],[58.8,4012],[61,4081],[64.3,4144],[68.3,4255],[72.2,4303],[74.8,4325],[78,4364]]];
var arrowsUpWeekly = [[23,3176],[39,3392],[59,3845],[76,4144]];
var oscFastWeekly = [[0,-165],[1,-112],[2,-74],[3,-16],[4,46],[5.2,107],[6.2,151],[8,200],[9.8,230],[11,261],[12.4,267],[14.7,253],[17,274],[19,225],[21,133],[21.9,107],[23.8,114],[26.5,109],[28,105],[29,116],[30,165],[31,189],[33,186],[34,193],[36.9,207],[38.9,196],[41,189],[42,174],[44,167],[46,119],[47,130],[48,163],[50,204],[51,233],[52,244],[53,230],[55,182],[58,147],[61,158],[64,168],[67,151],[69,167],[70,165],[72,142],[73,107],[74,60],[75,39],[76,35],[77,53],[78,95],[79,128]];
var oscSlowWeekly = [[0,-352],[2,-288],[3,-235],[5,-86],[6.5,10],[8,63],[9.8,133],[11.4,186],[13,221],[15,247],[17,260],[19,256],[21,221],[24,168],[26.5,126],[28,110],[29.7,116],[33,151],[36,177],[38,198],[41,200],[44,195],[47,163],[49,156],[52,177],[54.5,209],[57,204],[59,182],[62,160],[65,158],[70,161],[72,158],[74.8,125],[77,89],[79,77]];
var xTicksWeekly = [4,8,13,17,21,26,30,34,39,43,47,52,56,60,65,69,73,78];
var xLabelsWeekly = {4:"J",8:"J",13:"A",17:"S",21:"O",26:"N",30:"D",34:"21",39:"F",43:"M",47:"A",52:"M",56:"J",60:"J",65:"A",69:"S",73:"O",78:"N"};
var yTicksWeekly = [2400,2600,2800,3000,3200,3400,3600,3800,4000,4200,4400,4600];
var oscTicksWeekly = [300,250,200,150,100,50,0,-50,-100,-150,-200,-250,-300,-350];
var oscLabelsWeekly = [250,150,50,-50,-150,-250,-350];

// ---- colours
var chartBg = "#e6e6fa", bandLine = "#2f9bf5", centerLine = "#d2d3d6";
var upFill = "#0d6a12", downFill = "#a81f23", tickColor = "#6c6c6c", navy = "#04108a", brown = "#91501a", annot = "#b3232a";
var W = 2500, H = 1690;

var svg = d3.select("#chart").append("svg").attr("width", W).attr("height", H);
svg.append("rect").attr("width", W).attr("height", H).attr("fill", "#2c2c2f");
var defs = svg.append("defs");
function gradient(id, top, bottom){
    var g = defs.append("linearGradient").attr("id", id).attr("x1", 0).attr("x2", 0).attr("y1", 0).attr("y2", 1);
    g.append("stop").attr("offset", "0").attr("stop-color", top);
    g.append("stop").attr("offset", "1").attr("stop-color", bottom);
}
gradient("redBtn", "#8e1d22", "#5c1114");
gradient("greyBtn", "#c2c2c2", "#9a9a9a");
gradient("greenBtn", "#0b9a0b", "#075e07");
gradient("darkBtn", "#555", "#222");
gradient("closeBtn", "#d8262c", "#a01216");

// toolbar drawing ----------------------------------------------------------
function icon(g, type, x, cy){
    var c = g.append("g").attr("transform", "translate(" + x + "," + cy + ")").attr("fill", "none").attr("stroke", "#cfcfcf").attr("stroke-width", 1.5);
    if(type == "candles"){
        [-9,0,9].forEach(function(dx, k){
            c.append("line").attr("x1", dx).attr("x2", dx).attr("y1", -13).attr("y2", 13);
            c.append("rect").attr("x", dx - 2.5).attr("y", -7 + k * 2 - (k == 1 ? 5 : 0)).attr("width", 5).attr("height", 14).attr("fill", "#cfcfcf");
        });
    } else if(type == "bars"){
        [-9,0,9].forEach(function(dx, k){
            c.append("line").attr("x1", dx).attr("x2", dx).attr("y1", -13).attr("y2", 13);
            c.append("line").attr("x1", dx - 3).attr("x2", dx).attr("y1", 3 - k * 3).attr("y2", 3 - k * 3);
            c.append("line").attr("x1", dx).attr("x2", dx + 3).attr("y1", -4 + k * 3).attr("y2", -4 + k * 3);
        });
    } else if(type == "pencil"){
        c.attr("transform", "translate(" + x + "," + cy + ") rotate(48)");
        c.append("rect").attr("x", -16).attr("y", -4.5).attr("width", 24).attr("height", 9);
        c.append("line").attr("x1", -16).attr("x2", 8).attr("y1", 0).attr("y2", 0);
        c.append("path").attr("d", "M8,-4.5L16,0L8,4.5Z").attr("fill", "#cfcfcf");
    } else if(type == "zoomIn" || type == "zoomOut"){
        if(type == "zoomOut") c.attr("stroke", "#6f6f6f");
        c.append("circle").attr("cx", -3).attr("cy", -4).attr("r", 9);
        c.append("line").attr("x1", -8).attr("x2", 2).attr("y1", -4).attr("y2", -4);
        if(type == "zoomIn") c.append("line").attr("x1", -3).attr("x2", -3).attr("y1", -9).attr("y2", 1);
        c.append("line").attr("x1", 4).attr("x2", 13).attr("y1", 3).attr("y2", 12).attr("stroke-width", 4);
    } else if(type == "cursor"){
        c.append("path").attr("d", "M-6,-12L-6,9L-1,4L4,13L7,11L2,3L8,2Z");
    } else if(type == "doc"){
        c.append("path").attr("d", "M-11,-13L5,-13L11,-7L11,-2M-11,-13L-11,13L11,13");
        c.append("path").attr("d", "M-7,-3L-1,-3M-7,3L-1,3M-7,8L3,8");
        c.append("circle").attr("cx", 5).attr("cy", 2).attr("r", 4.5);
    } else if(type == "windows"){
        c.append("rect").attr("x", -11).attr("y", -13).attr("width", 13).attr("height", 8);
        c.append("rect").attr("x", 2).attr("y", -13).attr("width", 10).attr("height", 26);
        c.append("path").attr("d", "M-11,-5L-11,5L2,5");
    } else if(type == "chartBox"){
        c.append("path").attr("d", "M-13,-7L-13,-13L-7,-13M7,-13L13,-13L13,-7M13,7L13,13L7,13M-7,13L-13,13L-13,7");
        c.append("path").attr("d", "M-6,8L-6,-1M-2,8L-2,-7M2,8L2,-3M6,8L6,2").attr("stroke-width", 2.2);
    } else if(type == "nodes"){
        c.append("path").attr("d", "M-11,11L-5,-5L4,5L11,-10");
        [[-11,11],[-5,-5],[4,5],[11,-10]].forEach(function(p){ c.append("circle").attr("cx", p[0]).attr("cy", p[1]).attr("r", 2.5).attr("fill", "#1d1d1d"); });
    } else if(type == "clip"){
        c.append("rect").attr("x", -10).attr("y", -12).attr("width", 20).attr("height", 25);
        c.append("path").attr("d", "M-5,-6L0,-1M0,-6L-5,-1M-3,8L6,-2");
    } else if(type == "list"){
        [-10,0,10].forEach(function(dy){
            c.append("rect").attr("x", -11).attr("y", dy - 2.5).attr("width", 5).attr("height", 5);
            c.append("line").attr("x1", -2).attr("x2", 13).attr("y1", dy).attr("y2", dy);
        });
    }
}

function toolbar(o){
    var g = svg.append("g");
    g.append("rect").attr("x", o.x0).attr("y", o.top).attr("width", o.x1 - o.x0).attr("height", o.h).attr("fill", o.bg);
    g.append("rect").attr("x", o.x0).attr("y", o.top).attr("width", o.btnW).attr("height", o.h).attr("fill", "url(#redBtn)");
    g.append("text").attr("x", o.x0 + (o.btnW / 2)).attr("y", o.top + o.h / 2 + 8).attr("text-anchor", "middle").attr("fill", "#fff").attr("font-size", 23).text("Chart");
    o.boxes.forEach(function(b){
        g.append("rect").attr("x", b.x0).attr("y", o.top + 2.5).attr("width", b.x1 - b.x0).attr("height", o.h - 5).attr("fill", "#3b3c42");
        g.append("text").attr("x", b.x0 + 10).attr("y", o.top + o.h / 2 + 6).attr("fill", "#c0c0c0").attr("font-size", 17).text(b.text);
        var cx = b.x1 - 18, cy = o.top + o.h / 2;
        g.append("path").attr("d", "M" + (cx - 6) + "," + (cy - 4) + "L" + cx + "," + (cy + 5) + "L" + (cx + 6) + "," + (cy - 4)).attr("fill", "none").attr("stroke", "#d8d8d8").attr("stroke-width", 2.6);
    });
    o.icons.forEach(function(k){ icon(g, k[0], k[1], o.top + o.h / 2); });
    if(o.tri) g.append("path").attr("d", "M" + (o.tri - 7) + "," + (o.top + o.h / 2 - 5) + "h14l-7,9z").attr("fill", "#cfcfcf");
    var bh = o.h - 4, by = o.top + 2;
    g.append("rect").attr("x", o.btn[0]).attr("y", by).attr("width", 26).attr("height", bh).attr("fill", "url(#greyBtn)");
    g.append("rect").attr("x", o.btn[1]).attr("y", by).attr("width", 26).attr("height", bh).attr("fill", "url(#greenBtn)");
    [2,3,4].forEach(function(k){
        if(o.btn[k] === undefined) return;
        var bx = o.btn[k], bw = Math.min(26, W - bx), red = k == 4 && o.redClose;
        g.append("rect").attr("x", bx).attr("y", by).attr("width", bw).attr("height", bh).attr("rx", 2).attr("fill", red ? "url(#closeBtn)" : "url(#darkBtn)").attr("stroke", "#ddd").attr("stroke-width", 1);
        if(k == 2) g.append("rect").attr("x", bx + 5).attr("y", by + bh - 11).attr("width", 16).attr("height", 4).attr("fill", "#fff");
        if(k == 3) g.append("rect").attr("x", bx + 5).attr("y", by + 5).attr("width", 16).attr("height", bh - 10).attr("fill", "none").attr("stroke", "#fff").attr("stroke-width", 2);
        if(k == 4) g.append("path").attr("d", "M" + (bx + 7) + "," + (by + 8) + "L" + (bx + 19) + "," + (by + bh - 8) + "M" + (bx + 19) + "," + (by + 8) + "L" + (bx + 7) + "," + (by + bh - 8)).attr("stroke", "#fff").attr("stroke-width", 3.4);
    });
}

// chart drawing ------------------------------------------------------------
function lineOf(x, y, curve){
    var l = d3.line().x(function(d){ return x(d[0]); }).y(function(d){ return y(d[1]); });
    if(curve) l.curve(curve);
    return l;
}
function frame(o){
    svg.append("rect").attr("x", o.left).attr("y", o.top).attr("width", o.right - o.left).attr("height", o.bottom - o.top).attr("fill", chartBg);
}
function axisRightAt(o, scale, ticks, labelled, fmt, y0, y1){
    var isLabel = {};
    labelled.forEach(function(v){ isLabel[v] = true; });
    var ax = d3.axisRight(scale).tickValues(ticks).tickSize(5).tickPadding(4).tickFormat(function(v){ return isLabel[v] ? fmt(v) : ""; });
    var g = svg.append("g").attr("transform", "translate(" + o.axisX + ",0)").call(ax);
    g.select(".domain").remove();
    g.selectAll("line").attr("stroke", "#9a9a9a");
    g.selectAll("text").filter(function(){ return this.textContent == ""; }).remove();
    g.selectAll("text").attr("fill", tickColor).attr("font-size", 16.5);
    svg.append("line").attr("x1", o.axisX).attr("x2", o.axisX).attr("y1", y0).attr("y2", y1).attr("stroke", "#a2a2a8").attr("stroke-width", 1.5);
}
function axisBottomAt(o, x, ticks, labels){
    var ax = d3.axisBottom(x).tickValues(ticks).tickSize(5).tickPadding(10).tickFormat(function(v){ return labels[v] || ""; });
    var g = svg.append("g").attr("transform", "translate(0," + o.xAxisY + ")").call(ax);
    g.select(".domain").remove();
    g.selectAll("line").attr("stroke", "#9a9a9a");
    g.selectAll("text").filter(function(){ return this.textContent == ""; }).remove();
    g.selectAll("text").attr("fill", tickColor).attr("font-size", 16.5);
    svg.append("line").attr("x1", o.left).attr("x2", o.axisX).attr("y1", o.xAxisY).attr("y2", o.xAxisY).attr("stroke", "#a2a2a8").attr("stroke-width", 1.5);
}
function separator(o, yPos){
    svg.append("line").attr("x1", o.left).attr("x2", o.right).attr("y1", yPos).attr("y2", yPos).attr("stroke", "#c6c6ce").attr("stroke-width", 1.6);
}
function flag(o, yPos, label){
    var h = 11, x0 = o.flagX, x1 = o.right;
    svg.append("path").attr("d", "M" + x0 + "," + yPos + "L" + (x0 + 6) + "," + (yPos - h) + "L" + x1 + "," + (yPos - h) + "L" + x1 + "," + (yPos + h) + "L" + (x0 + 6) + "," + (yPos + h) + "Z").attr("fill", "#ffff00").attr("stroke", "#c9c93c");
    svg.append("text").attr("x", (x0 + x1) / 2 + 3).attr("y", yPos + 6).attr("text-anchor", "middle").attr("font-size", 16.5).attr("fill", "#111").text(label);
}
function titles(o){
    svg.append("text").attr("x", o.titleX).attr("y", o.titleY).attr("font-size", o.titleSize).attr("fill", "#777")
        .attr("textLength", o.titleW).attr("lengthAdjust", "spacingAndGlyphs").text(o.title);
    svg.append("text").attr("x", o.titleX).attr("y", o.atrY).attr("font-size", 15.5).attr("fill", "#777").text(o.atr);
    svg.append("text").attr("x", o.copyX).attr("y", o.copyY).attr("font-size", 16.5).attr("fill", "#777").text("\u00a9 2021 NinjaTrader, LLC");
}
// the fills are see-through: the title under them stays readable, as in the platform
function band(o, x, y, upper, lower, center){
    var l = lineOf(x, y, d3.curveMonotoneX), poly = lineOf(x, y);
    svg.append("path").attr("d", poly(upper.concat(lower.slice().reverse())) + "Z").attr("fill", "#d8d8d8").attr("fill-opacity", 0.5);
    [upper, lower].forEach(function(s){
        svg.append("path").attr("d", l(s)).attr("fill", "none").attr("stroke", "rgb(229,233,249)").attr("stroke-opacity", 0.7).attr("stroke-width", 13);
    });
    svg.append("path").attr("d", l(center)).attr("fill", "none").attr("stroke", centerLine).attr("stroke-width", 1.4);
}
function bandLines(x, y, upper, lower){
    var l = lineOf(x, y, d3.curveMonotoneX);
    [upper, lower].forEach(function(s){
        svg.append("path").attr("d", l(s)).attr("fill", "none").attr("stroke", bandLine).attr("stroke-width", 2);
    });
}
function candles(x, y, data, bodyW){
    var g = svg.append("g");
    g.selectAll("line").data(data).enter().append("line")
        .attr("x1", function(d, i){ return x(i); }).attr("x2", function(d, i){ return x(i); })
        .attr("y1", function(d){ return y(d[1]); }).attr("y2", function(d){ return y(d[2]); })
        .attr("stroke", "#111").attr("stroke-width", 1.5);
    g.selectAll("rect").data(data).enter().append("rect")
        .attr("x", function(d, i){ return x(i) - bodyW / 2; })
        .attr("y", function(d){ return y(Math.max(d[0], d[3])); })
        .attr("width", bodyW)
        .attr("height", function(d){ return Math.max(1.5, Math.abs(y(d[0]) - y(d[3]))); })
        .attr("fill", function(d){ return d[3] >= d[0] ? upFill : downFill; })
        .attr("stroke", "#111").attr("stroke-width", 1);
}
function ohlcBars(x, y, data, cyan, magenta){
    var g = svg.append("g");
    function col(i){ return cyan.indexOf(i) >= 0 ? "#1fbcf2" : (magenta.indexOf(i) >= 0 ? "#f01ee0" : "#0c0c0c"); }
    data.forEach(function(d, i){
        var px = x(i);
        g.append("line").attr("x1", px).attr("x2", px).attr("y1", y(d[1])).attr("y2", y(d[2])).attr("stroke", col(i)).attr("stroke-width", 2);
        g.append("line").attr("x1", px - 3).attr("x2", px).attr("y1", y(d[0])).attr("y2", y(d[0])).attr("stroke", col(i)).attr("stroke-width", 1.6);
        g.append("line").attr("x1", px).attr("x2", px + 3).attr("y1", y(d[3])).attr("y2", y(d[3])).attr("stroke", col(i)).attr("stroke-width", 1.6);
    });
}
function levels(x, y, rows, color, dash){
    svg.append("g").selectAll("line").data(rows).enter().append("line")
        .attr("x1", function(d){ return x(d[0]); }).attr("x2", function(d){ return x(d[1]); })
        .attr("y1", function(d){ return y(d[2]); }).attr("y2", function(d){ return y(d[2]); })
        .attr("stroke", color).attr("stroke-width", 2.2).attr("stroke-dasharray", dash);
}
function midLine(x, y, segs, color){
    var l = lineOf(x, y, d3.curveMonotoneX);
    segs.forEach(function(s){
        svg.append("path").attr("d", l(s)).attr("fill", "none").attr("stroke", color).attr("stroke-width", 3.4).attr("stroke-dasharray", "9,5");
    });
}
function arrows(x, y, rows, up, color){
    var s = up ? 1 : -1;
    svg.append("g").selectAll("path").data(rows).enter().append("path")
        .attr("transform", function(d){ return "translate(" + x(d[0]) + "," + y(d[1]) + ") scale(1," + s + ")"; })
        .attr("d", "M0,0L4,7L1.7,7L1.7,15L-1.7,15L-1.7,7L-4,7Z").attr("fill", color);
}
function backArrow(cx, cy){
    svg.append("path").attr("d", "M" + (cx + 15) + "," + cy + "L" + (cx - 14) + "," + cy + "M" + (cx - 3) + "," + (cy - 11) + "L" + (cx - 14) + "," + cy + "L" + (cx - 3) + "," + (cy + 11))
        .attr("fill", "none").attr("stroke", "#6f6f6f").attr("stroke-width", 3);
}
function channel(x, y, pts){
    var poly = lineOf(x, y);
    svg.append("path").attr("d", poly(pts) + "Z").attr("fill", "#ffff00").attr("fill-opacity", 0.2);
    [[pts[0], pts[1]], [pts[3], pts[2]]].forEach(function(s){
        svg.append("path").attr("d", poly(s)).attr("stroke", annot).attr("stroke-width", 2.8).attr("fill", "none");
    });
}
function oscillator(x, y, series){
    series.forEach(function(s){
        svg.append("path").attr("d", lineOf(x, y)(s[0])).attr("fill", "none").attr("stroke", s[1]).attr("stroke-width", 1.6);
    });
}
function fix2(v){ return d3.format(".2f")(v); }
function plain(v){ return String(v); }

// 240 minute ---------------------------------------------------------------
toolbar({x0:0, x1:836, top:0, h:33, btnW:71, bg:"#4b4b4d", boxes:[{x0:101,x1:303,text:"ES 12-21"},{x0:313,x1:516,text:"240 Minute"}], icons:[["candles",549],["pencil",593]], tri:661, btn:[679,711,742,772,803], redClose:false});
var p1 = {left:4, right:822, top:47, bottom:817, axisX:745, xAxisY:785, flagX:739, title:"Remek!  Premium  ES 12-21  240 Minute  2021-11-14 2:06 PM", atr:"1 ATR = 750 USD", titleX:18, titleY:107, titleSize:17, titleW:486, atrY:130, copyX:8, copyY:774};
frame(p1);
var x1 = d3.scaleLinear().domain([0, ohlc240.length - 1]).range([15, 556]);
var y1 = d3.scaleLog().domain([4520, 4710]).range([559, 72]);
var o1 = d3.scaleLinear().domain([-25, 25]).range([777, 616]);
svg.append("g").selectAll("line").data(grid240).enter().append("line")
    .attr("x1", function(d){ return x1(d); }).attr("x2", function(d){ return x1(d); })
    .attr("y1", p1.top).attr("y2", p1.xAxisY).attr("stroke", "#d6d6e2").attr("stroke-width", 1);
titles(p1);
band(p1, x1, y1, upper240, lower240, center240);
candles(x1, y1, ohlc240, 5.4);
midLine(x1, y1, midYellow240, "#ffff00");
midLine(x1, y1, midBlue240, "#4a69dc");
bandLines(x1, y1, upper240, lower240);
arrows(x1, y1, arrowsUp240, true, "#1414e6");
channel(x1, y1, channel240);
separator(p1, 572);
svg.append("line").attr("x1", p1.left).attr("x2", p1.axisX).attr("y1", o1(0)).attr("y2", o1(0)).attr("stroke", "#c9c9d0").attr("stroke-width", 1.4);
oscillator(x1, o1, [[oscSlow240, brown], [oscFast240, navy]]);
axisRightAt(p1, y1, yTicks240, yTicks240, fix2, p1.top, 572);
axisRightAt(p1, o1, oscTicks240, oscLabels240, plain, 572, p1.xAxisY);
axisBottomAt(p1, x1, xTicks240, xLabels240);
backArrow(708, 80);
flag(p1, y1(4681), "4681.00");

// 60 minute ----------------------------------------------------------------
toolbar({x0:840, x1:1671, top:0, h:33, btnW:76, bg:"#4b4b4d", boxes:[{x0:944,x1:1147,text:"ES 12-21"},{x0:1157,x1:1361,text:"60 Minute"}], icons:[["bars",1392],["pencil",1438]], tri:1497, btn:[1516,1546,1578,1608,1639], redClose:false});
var p2 = {left:848, right:1658, top:47, bottom:517, axisX:1581, xAxisY:484, flagX:1575, title:"Remek!  Premium  ES 12-21  60 Minute  2021-11-14 2:06 PM", atr:"1 ATR = 400 USD", titleX:862, titleY:107, titleSize:17, titleW:476, atrY:130, copyX:852, copyY:476};
frame(p2);
var x2 = d3.scaleLinear().domain([0, ohlc60.length - 1]).range([862.7, 1535.7]);
var y2 = d3.scaleLog().domain([4625, 4705]).range([461, 98.3]);
titles(p2);
band(p2, x2, y2, upper60, lower60, center60);
svg.append("path").attr("d", lineOf(x2, y2)(shadeTop60.concat(shadeBottom60.slice().reverse())) + "Z").attr("fill", "rgb(239,212,192)").attr("fill-opacity", 0.7);
svg.append("path").attr("d", lineOf(x2, y2)(shadeBlue60) + "Z").attr("fill", "#c6d3ef");
svg.append("path").attr("d", lineOf(x2, y2, d3.curveMonotoneX)(center60)).attr("fill", "none").attr("stroke", centerLine).attr("stroke-width", 1.4);
svg.append("g").selectAll("line").data(sessions60).enter().append("line")
    .attr("x1", function(d){ return x2(d); }).attr("x2", function(d){ return x2(d); })
    .attr("y1", p2.top).attr("y2", p2.xAxisY).attr("stroke", "#777").attr("stroke-width", 1.4).attr("stroke-dasharray", "5,3");
ohlcBars(x2, y2, ohlc60, cyan60, magenta60);
levels(x2, y2, teal60, "#0f8a8a", "5,3");
levels(x2, y2, darkRed60, "#b2191c", "5,3");
levels(x2, y2, salmon60, "#ff7a66", "5,3");
midLine(x2, y2, midYellow60, "#ffff00");
midLine(x2, y2, midRed60, "#dc143c");
midLine(x2, y2, midBlue60, "#4a69dc");
bandLines(x2, y2, upper60, lower60);
arrows(x2, y2, arrowsUp60, true, "#1414e6");
arrows(x2, y2, arrowsDown60, false, "#a92020");
axisRightAt(p2, y2, yTicks60, yLabels60, fix2, p2.top, p2.xAxisY);
axisBottomAt(p2, x2, xTicks60, xLabels60);
flag(p2, y2(4681), "4681.00");

// 15 minute ----------------------------------------------------------------
toolbar({x0:1680, x1:2500, top:0, h:33, btnW:68, bg:"#1c1c1e", boxes:[{x0:1777,x1:1981,text:"ES 12-21"},{x0:1990,x1:2193,text:"15 Minute"}], icons:[["bars",2225],["pencil",2271]], tri:2340, btn:[2358,2389,2420,2451,2482], redClose:true});
var p3 = {left:1681, right:2500, top:47, bottom:517, axisX:2424, xAxisY:484, flagX:2418, title:"Remek!  Premium  ES 12-21  15 Minute  2021-11-14 2:06 PM", atr:"1 ATR = 212 USD", titleX:1695, titleY:107, titleSize:17, titleW:477, atrY:130, copyX:1685, copyY:476};
frame(p3);
var x3 = d3.scaleLinear().domain([0, ohlc15.length - 1]).range([1690.3, 2380]);
var y3 = d3.scaleLog().domain([4635, 4685]).range([477.3, 75.3]);
titles(p3);
band(p3, x3, y3, upper15, lower15, center15);
svg.append("g").selectAll("line").data(sessions15).enter().append("line")
    .attr("x1", function(d){ return x3(d); }).attr("x2", function(d){ return x3(d); })
    .attr("y1", p3.top).attr("y2", p3.xAxisY).attr("stroke", "#777").attr("stroke-width", 1.4).attr("stroke-dasharray", "5,3");
ohlcBars(x3, y3, ohlc15, cyan15, []);
levels(x3, y3, teal15, "#0f8a8a", "2.2,3");
levels(x3, y3, darkRed15, "#b2191c", "2.2,3");
levels(x3, y3, salmon15, "#ff7a66", "2.2,3");
midLine(x3, y3, midYellow15, "#ffff00");
midLine(x3, y3, midRed15, "#dc143c");
midLine(x3, y3, midBlue15, "#4a69dc");
bandLines(x3, y3, upper15, lower15);
arrows(x3, y3, arrowsUp15, true, "#1414e6");
arrows(x3, y3, arrowsDown15, false, "#a92020");
axisRightAt(p3, y3, yTicks15, yTicks15, fix2, p3.top, p3.xAxisY);
axisBottomAt(p3, x3, xTicks15, xLabels15);
flag(p3, y3(4681), "4681.00");

// Daily --------------------------------------------------------------------
toolbar({x0:840, x1:2500, top:525, h:37, btnW:76, bg:"#1e1e20", boxes:[{x0:944,x1:1147,text:"ES 12-21"},{x0:1157,x1:1361,text:"Daily"}], icons:[["candles",1393],["pencil",1438],["zoomIn",1483],["zoomOut",1528],["cursor",1574],["doc",1619],["windows",1666],["chartBox",1710],["nodes",1756],["clip",1802],["list",1847]], btn:[2355,2386,2416,2447,2478], redClose:true});
var p4 = {left:848, right:2500, top:575, bottom:1687, axisX:2420, xAxisY:1655, flagX:2414, title:"Remek!  Premium  ES 12-21  Daily  2021-11-14 2:06 PM", atr:"1 ATR = 2275 USD", titleX:868, titleY:648, titleSize:28, titleW:771, atrY:674, copyX:852, copyY:1645};
frame(p4);
var x4 = d3.scaleLinear().domain([0, ohlcDaily.length - 1]).range([861.4, 2010.3]);
var y4 = d3.scaleLog().domain([4000, 4700]).range([1188, 600]);
var o4 = d3.scaleLinear().domain([-60, 100]).range([1411, 1227]);
var h4 = d3.scaleLinear().domain([-3, 7]).range([1647, 1463]);
titles(p4);
band(p4, x4, y4, upperDaily, lowerDaily, centerDaily);
candles(x4, y4, ohlcDaily, 5.6);
midLine(x4, y4, midYellowDaily, "#ffff00");
midLine(x4, y4, midBlueDaily, "#4a69dc");
bandLines(x4, y4, upperDaily, lowerDaily);
svg.append("rect").attr("x", x4(zoneDaily[0])).attr("y", y4(zoneDaily[2])).attr("width", x4(zoneDaily[1]) - x4(zoneDaily[0])).attr("height", y4(zoneDaily[3]) - y4(zoneDaily[2]))
    .attr("fill", "#ffff00").attr("fill-opacity", 0.2).attr("stroke", annot).attr("stroke-width", 2.6);
channel(x4, y4, channelDaily);
svg.append("ellipse").attr("cx", x4(targetDaily[0])).attr("cy", (y4(targetDaily[2]) + y4(targetDaily[3])) / 2)
    .attr("rx", x4(targetDaily[0] + targetDaily[1]) - x4(targetDaily[0])).attr("ry", (y4(targetDaily[3]) - y4(targetDaily[2])) / 2)
    .attr("fill", "#ffff00").attr("fill-opacity", 0.2).attr("stroke", annot).attr("stroke-width", 2.6);
svg.append("line").attr("x1", x4(targetLineDaily[0])).attr("x2", x4(targetLineDaily[1])).attr("y1", y4(targetLineDaily[2])).attr("y2", y4(targetLineDaily[2])).attr("stroke", annot).attr("stroke-width", 2.6);
var ta = x4(targetArrowDaily[0][0]), tb = y4(targetArrowDaily[0][1]), tc = x4(targetArrowDaily[1][0]), td = y4(targetArrowDaily[1][1]);
var tAng = Math.atan2(td - tb, tc - ta);
svg.append("line").attr("x1", ta).attr("y1", tb).attr("x2", tc - 10 * Math.cos(tAng)).attr("y2", td - 10 * Math.sin(tAng)).attr("stroke", annot).attr("stroke-width", 2.6);
svg.append("path").attr("transform", "translate(" + tc + "," + td + ") rotate(" + (tAng * 180 / Math.PI) + ")").attr("d", "M0,0L-14,7L-14,-7Z").attr("fill", annot);
separator(p4, 1207);
separator(p4, 1433);
svg.append("line").attr("x1", p4.left).attr("x2", p4.axisX).attr("y1", o4(0)).attr("y2", o4(0)).attr("stroke", "#c9c9d3").attr("stroke-width", 2);
oscillator(x4, o4, [[oscSlowDaily, brown], [oscFastDaily, navy]]);
[2, -2, 0].forEach(function(v){
    svg.append("line").attr("x1", p4.left).attr("x2", p4.axisX).attr("y1", h4(v)).attr("y2", h4(v)).attr("stroke", "#d0d0dc").attr("stroke-width", 1.6);
});
svg.append("g").selectAll("line").data(histDaily).enter().append("line")
    .attr("x1", function(d, i){ return x4(i); }).attr("x2", function(d, i){ return x4(i); })
    .attr("y1", h4(0)).attr("y2", function(d){ return h4(d); })
    .attr("stroke", function(d){ return d < 0 ? "#b01c1c" : "#666"; }).attr("stroke-width", 2);
oscillator(x4, h4, [[histLineDaily, navy]]);
axisRightAt(p4, y4, yTicksDaily, yTicksDaily, fix2, p4.top, 1207);
axisRightAt(p4, o4, oscTicksDaily, oscLabelsDaily, plain, 1207, 1433);
axisRightAt(p4, h4, histTicksDaily, histLabelsDaily, plain, 1433, p4.xAxisY);
axisBottomAt(p4, x4, xTicksDaily, xLabelsDaily);
backArrow(2384, 608);
flag(p4, y4(4678.25), "4678.25");

// Weekly -------------------------------------------------------------------
toolbar({x0:0, x1:836, top:833, h:34, btnW:71, bg:"#202022", boxes:[{x0:101,x1:303,text:"ES 12-21"},{x0:313,x1:516,text:"Weekly"}], icons:[["candles",549],["pencil",593]], tri:663, btn:[681,712,743,773,804], redClose:true});
var p5 = {left:4, right:823, top:882, bottom:1687, axisX:746, xAxisY:1655, flagX:741, title:"Remek!  Premium  ES 12-21  Weekly  2021-11-14 2:06 PM", atr:"1 ATR = 5725 USD", titleX:18, titleY:941, titleSize:17, titleW:452, atrY:964, copyX:8, copyY:1645};
frame(p5);
var x5 = d3.scaleLinear().domain([0, ohlcWeekly.length - 1]).range([13.4, 661.5]);
var y5 = d3.scaleLog().domain([2400, 4600]).range([1382, 911]);
var o5 = d3.scaleLinear().domain([-350, 250]).range([1640, 1453]);
titles(p5);
band(p5, x5, y5, upperWeekly, lowerWeekly, centerWeekly);
candles(x5, y5, ohlcWeekly, 5.4);
midLine(x5, y5, midYellowWeekly, "#ffff00");
midLine(x5, y5, midBlueWeekly, "#4a69dc");
bandLines(x5, y5, upperWeekly, lowerWeekly);
arrows(x5, y5, arrowsUpWeekly, true, "#1414e6");
separator(p5, 1433);
svg.append("line").attr("x1", p5.left).attr("x2", p5.axisX).attr("y1", o5(0)).attr("y2", o5(0)).attr("stroke", "#c9c9d0").attr("stroke-width", 1.6);
oscillator(x5, o5, [[oscSlowWeekly, brown], [oscFastWeekly, navy]]);
axisRightAt(p5, y5, yTicksWeekly, yTicksWeekly, fix2, p5.top, 1433);
axisRightAt(p5, o5, oscTicksWeekly, oscLabelsWeekly, plain, 1433, p5.xAxisY);
axisBottomAt(p5, x5, xTicksWeekly, xLabelsWeekly);
flag(p5, y5(4678.25), "4678.25");
</script>
</body>
</html>
